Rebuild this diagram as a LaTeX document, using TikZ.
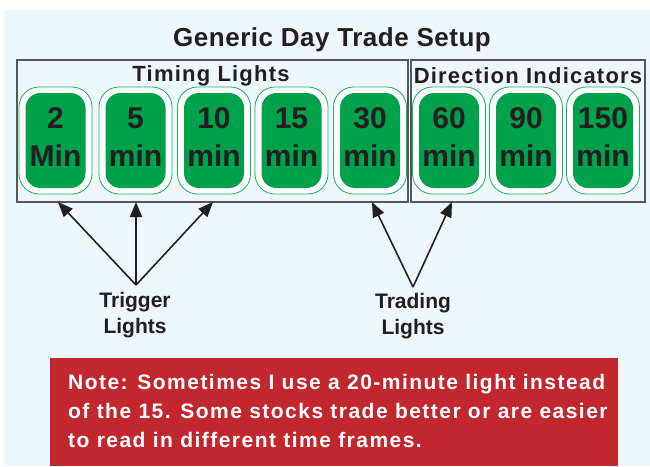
\documentclass[tikz,border=0pt]{standalone}
\usepackage{fontspec}
\setmainfont{Liberation Sans}
\usetikzlibrary{arrows.meta}
\definecolor{bgblue}{HTML}{EEF7FC}
\definecolor{lgreen}{HTML}{00A14B}
\definecolor{lgreenline}{HTML}{1FAE5E}
\definecolor{notered}{HTML}{C1272D}
\definecolor{ink}{HTML}{231F20}
\definecolor{frame}{HTML}{555759}
\tikzset{
  outerlight/.style={draw=lgreenline, line width=0.8pt, fill=white, rounded corners=20pt,
    minimum width=73pt, minimum height=107pt, inner sep=0pt},
  innerlight/.style={fill=lgreen, rounded corners=15pt, minimum width=60pt, minimum height=95pt,
    inner sep=0pt},
  lighttext/.style={inner sep=0pt, text=ink, font=\fontsize{30}{38}\selectfont\bfseries, align=center},
  groupbox/.style={draw=frame, line width=1.2pt},
  arr/.style={draw=ink, line width=1.6pt, -{Triangle[length=15pt,width=12pt]}},
  lbl/.style={text=ink, font=\fontsize{21}{26}\selectfont\bfseries, align=center, inner sep=0pt},
  head/.style={text=ink, font=\fontsize{22}{26}\selectfont\bfseries\addfontfeature{LetterSpace=5.5}, inner sep=0pt}
}
\begin{document}
\begin{tikzpicture}[x=1pt,y=-1pt]
\useasboundingbox (0,0) rectangle (650,466);
\fill[white] (0,0) rectangle (650,466);
\fill[bgblue] (4,10) rectangle (650,466);
\node[text=ink, font=\fontsize{26}{30}\selectfont\bfseries\addfontfeature{LetterSpace=2}, inner sep=0pt] (title) at (332,40) {Generic Day Trade Setup};
\node[groupbox, minimum width=391pt, minimum height=142pt, inner sep=0pt] (tbox) at (212.5,131) {};
\node[groupbox, minimum width=234pt, minimum height=142pt, inner sep=0pt] (dbox) at (528,131) {};
\node[head] (tl) at (211,76) {Timing Lights};
\node[head] (dl) at (528,76) {Direction Indicators};
\foreach \n/\x/\a/\b in {l1/55.5/2/Min, l2/135.5/5/min, l3/214/10/min, l4/291.5/15/min, l5/370/30/min, l6/449/60/min, l7/526/90/min, l8/603/150/min}{
  \node[outerlight] (\n o) at (\x,140.5) {};
  \node[innerlight] (\n) at (\x,140.5) {};
  \node[lighttext] (\n t) at (\x,137) {\a\\\b};
}
\coordinate (t1) at (58,202);
\coordinate (t2) at (136,202);
\coordinate (t3) at (213,202);
\coordinate (t5) at (372,202);
\coordinate (t6) at (452,202);
\coordinate (trigo) at (136,285);
\coordinate (trado) at (413,287);
\node[lbl] (trig) at (135,315) {Trigger\\Lights};
\node[lbl] (trad) at (413,316) {Trading\\Lights};
\draw[arr] (trigo) -- (t1);
\draw[arr] (trigo) -- (t2);
\draw[arr] (trigo) -- (t3);
\draw[arr] (trado) -- (t5);
\draw[arr] (trado) -- (t6);
\node[fill=notered, minimum width=568pt, minimum height=108pt, inner sep=0pt] (notebox) at (334,412) {};
\node[text=white, font=\fontsize{21}{29}\selectfont\bfseries\addfontfeature{LetterSpace=7}, align=left, anchor=base west, inner sep=0pt] (note) at (68,447) {Note: Sometimes I use a 20-minute light instead\\of the 15. Some stocks trade better or are easier\\to read in different time frames.};
\end{tikzpicture}
\end{document}
